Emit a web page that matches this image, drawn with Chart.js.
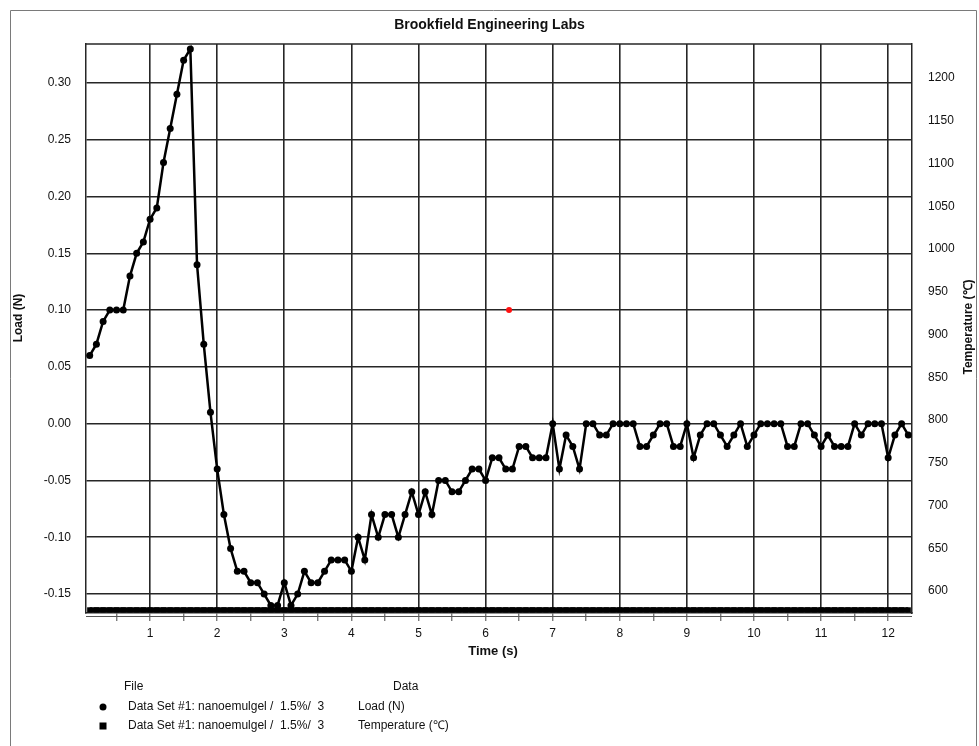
<!DOCTYPE html>
<html>
<head>
<meta charset="utf-8">
<title>Brookfield Engineering Labs</title>
<script src="https://cdn.jsdelivr.net/npm/chart.js@4/dist/chart.umd.min.js"></script>
<style>
  html, body { margin: 0; padding: 0; background: #fff; }
  canvas { display: block; }
</style>
</head>
<body>
<canvas id="c" width="979" height="746"></canvas>
<script>
// Sample times (s), one reading every 0.1 s
const timeS = [
  0.1, 0.2, 0.3, 0.4, 0.5, 0.6, 0.7, 0.8, 0.9, 1.0,
  1.1, 1.2, 1.3, 1.4, 1.5, 1.6, 1.7, 1.8, 1.9, 2.0,
  2.1, 2.2, 2.3, 2.4, 2.5, 2.6, 2.7, 2.8, 2.9, 3.0,
  3.1, 3.2, 3.3, 3.4, 3.5, 3.6, 3.7, 3.8, 3.9, 4.0,
  4.1, 4.2, 4.3, 4.4, 4.5, 4.6, 4.7, 4.8, 4.9, 5.0,
  5.1, 5.2, 5.3, 5.4, 5.5, 5.6, 5.7, 5.8, 5.9, 6.0,
  6.1, 6.2, 6.3, 6.4, 6.5, 6.6, 6.7, 6.8, 6.9, 7.0,
  7.1, 7.2, 7.3, 7.4, 7.5, 7.6, 7.7, 7.8, 7.9, 8.0,
  8.1, 8.2, 8.3, 8.4, 8.5, 8.6, 8.7, 8.8, 8.9, 9.0,
  9.1, 9.2, 9.3, 9.4, 9.5, 9.6, 9.7, 9.8, 9.9, 10.0,
  10.1, 10.2, 10.3, 10.4, 10.5, 10.6, 10.7, 10.8, 10.9, 11.0,
  11.1, 11.2, 11.3, 11.4, 11.5, 11.6, 11.7, 11.8, 11.9, 12.0,
  12.1, 12.2, 12.3
];

// Load (N)
const loadN = [
  0.06, 0.07, 0.09, 0.10, 0.10, 0.10, 0.13, 0.15, 0.16, 0.18,
  0.19, 0.23, 0.26, 0.29, 0.32, 0.33, 0.14, 0.07, 0.01, -0.04,
  -0.08, -0.11, -0.13, -0.13, -0.14, -0.14, -0.15, -0.16, -0.16, -0.14,
  -0.16, -0.15, -0.13, -0.14, -0.14, -0.13, -0.12, -0.12, -0.12, -0.13,
  -0.10, -0.12, -0.08, -0.10, -0.08, -0.08, -0.10, -0.08, -0.06, -0.08,
  -0.06, -0.08, -0.05, -0.05, -0.06, -0.06, -0.05, -0.04, -0.04, -0.05,
  -0.03, -0.03, -0.04, -0.04, -0.02, -0.02, -0.03, -0.03, -0.03, 0.00,
  -0.04, -0.01, -0.02, -0.04, 0.00, 0.00, -0.01, -0.01, 0.00, 0.00,
  0.00, 0.00, -0.02, -0.02, -0.01, 0.00, 0.00, -0.02, -0.02, 0.00,
  -0.03, -0.01, 0.00, 0.00, -0.01, -0.02, -0.01, 0.00, -0.02, -0.01,
  0.00, 0.00, 0.00, 0.00, -0.02, -0.02, 0.00, 0.00, -0.01, -0.02,
  -0.01, -0.02, -0.02, -0.02, 0.00, -0.01, 0.00, 0.00, 0.00, -0.03,
  -0.01, 0.00, -0.01
];

// Temperature (℃), sitting on the floor of the right axis
const temperatureC = [
  578, 578, 578, 578, 578, 578, 578, 578, 578, 578,
  578, 578, 578, 578, 578, 578, 578, 578, 578, 578,
  578, 578, 578, 578, 578, 578, 578, 578, 578, 578,
  578, 578, 578, 578, 578, 578, 578, 578, 578, 578,
  578, 578, 578, 578, 578, 578, 578, 578, 578, 578,
  578, 578, 578, 578, 578, 578, 578, 578, 578, 578,
  578, 578, 578, 578, 578, 578, 578, 578, 578, 578,
  578, 578, 578, 578, 578, 578, 578, 578, 578, 578,
  578, 578, 578, 578, 578, 578, 578, 578, 578, 578,
  578, 578, 578, 578, 578, 578, 578, 578, 578, 578,
  578, 578, 578, 578, 578, 578, 578, 578, 578, 578,
  578, 578, 578, 578, 578, 578, 578, 578, 578, 578,
  578, 578, 578
];

// Cursor marker
const cursorTime = [6.35];
const cursorLoad = [0.10];

// Tick values
const timeTicks = [0.5, 1, 1.5, 2, 2.5, 3, 3.5, 4, 4.5, 5, 5.5, 6, 6.5, 7, 7.5, 8, 8.5, 9, 9.5, 10, 10.5, 11, 11.5, 12];
const loadTicks = [-0.15, -0.10, -0.05, 0.00, 0.05, 0.10, 0.15, 0.20, 0.25, 0.30];
const tempTicks = [600, 650, 700, 750, 800, 850, 900, 950, 1000, 1050, 1100, 1150, 1200];

// Text
const chartTitle = 'Brookfield Engineering Labs';
const xTitle = 'Time (s)';
const yTitle = 'Load (N)';
const y2Title = 'Temperature (\u2103)';
const fileName = 'Data Set #1: nanoemulgel /  1.5%/  3';
const legendHeads = ['File', 'Data'];

const FONT = "'Liberation Sans', Arial, sans-serif";
const INK = '#111';
const GRID = '#262626';

const toPoints = (xs, ys) => xs.map((x, i) => ({ x: x, y: ys[i] }));

// Frame, top border, axis titles and the two-column legend
const decorations = {
  id: 'decorations',
  beforeDraw(chart) {
    const c = chart.ctx;
    c.save();
    c.fillStyle = '#fff';
    c.fillRect(0, 0, chart.width, chart.height);
    c.restore();
  },
  afterDraw(chart) {
    const c = chart.ctx;
    const a = chart.chartArea;
    c.save();

    // page frame
    c.strokeStyle = '#7a7a7a';
    c.lineWidth = 1;
    c.beginPath();
    c.moveTo(10.5, chart.height);
    c.lineTo(10.5, 10.5);
    c.lineTo(976.5, 10.5);
    c.lineTo(976.5, chart.height);
    c.stroke();

    // plot top edge and the second baseline under the axis
    c.strokeStyle = GRID;
    c.lineWidth = 1.5;
    c.beginPath();
    c.moveTo(a.left, a.top);
    c.lineTo(a.right, a.top);
    c.stroke();
    c.strokeStyle = '#555';
    c.lineWidth = 1;
    c.beginPath();
    c.moveTo(a.left, a.bottom + 3.5);
    c.lineTo(a.right, a.bottom + 3.5);
    c.stroke();

    // axis titles
    c.fillStyle = INK;
    c.font = 'bold 13px ' + FONT;
    c.textAlign = 'center';
    c.textBaseline = 'middle';
    c.fillText(xTitle, (a.left + a.right) / 2 - 6, 651);

    c.font = 'bold 12px ' + FONT;
    c.save();
    c.translate(19, 318);
    c.rotate(-Math.PI / 2);
    c.fillText(yTitle, 0, 0);
    c.restore();

    c.save();
    c.translate(969, 327);
    c.rotate(-Math.PI / 2);
    c.fillText(y2Title, 0, 0);
    c.restore();

    // legend
    c.font = '12px ' + FONT;
    c.textAlign = 'left';
    c.fillText(legendHeads[0], 124, 687);
    c.fillText(legendHeads[1], 393, 687);
    const ds = chart.data.datasets;
    const rows = [707, 726];
    [0, 1].forEach((k) => {
      const y = rows[k];
      c.fillStyle = '#000';
      if (ds[k].pointStyle === 'rect') {
        c.fillRect(99.5, y - 3.5, 7, 7);
      } else {
        c.beginPath();
        c.arc(103, y, 3.5, 0, Math.PI * 2);
        c.fill();
      }
      c.fillStyle = INK;
      c.fillText(fileName, 128, y);
      c.fillText(ds[k].label, 358, y);
    });
    c.restore();
  }
};

new Chart(document.getElementById('c'), {
  type: 'line',
  data: {
    datasets: [
      {
        label: yTitle,
        data: toPoints(timeS, loadN),
        yAxisID: 'y',
        borderColor: '#000',
        backgroundColor: '#000',
        borderWidth: 2.5,
        pointStyle: 'circle',
        pointRadius: 3.5,
        pointBorderWidth: 0,
        tension: 0
      },
      {
        label: y2Title,
        data: toPoints(timeS, temperatureC),
        yAxisID: 'y2',
        borderColor: '#000',
        backgroundColor: '#000',
        borderWidth: 5,
        pointStyle: 'rect',
        pointRadius: 3.6,
        pointBorderWidth: 0,
        tension: 0
      },
      {
        label: 'cursor',
        data: toPoints(cursorTime, cursorLoad),
        yAxisID: 'y',
        showLine: false,
        borderColor: '#ff1010',
        backgroundColor: '#ff1010',
        pointRadius: 3,
        pointBorderWidth: 0
      }
    ]
  },
  options: {
    responsive: false,
    animation: false,
    devicePixelRatio: 1,
    layout: { padding: 0 },
    plugins: {
      legend: { display: false },
      tooltip: { enabled: false },
      title: {
        display: true,
        text: chartTitle,
        color: INK,
        font: { family: FONT, size: 14, weight: 'bold', lineHeight: 1.2 },
        padding: { top: 17, bottom: 10.2 }
      }
    },
    scales: {
      x: {
        type: 'linear',
        min: 0.045,
        max: 12.355,
        afterBuildTicks: (s) => { s.ticks = timeTicks.map((v) => ({ value: v })); },
        afterFit: (s) => { s.height = 133; },
        ticks: {
          autoSkip: false,
          maxRotation: 0,
          padding: 5,
          color: INK,
          font: { family: FONT, size: 12 },
          callback: (v) => (Number.isInteger(v) ? String(v) : '')
        },
        grid: {
          color: (ctx) => (ctx.tick && Number.isInteger(ctx.tick.value) ? GRID : 'rgba(0,0,0,0)'),
          tickColor: '#444',
          lineWidth: 1.6,
          tickWidth: 1,
          tickLength: 8
        },
        border: { color: GRID, width: 1.5 }
      },
      y: {
        position: 'left',
        min: -0.1667,
        max: 0.3343,
        afterBuildTicks: (s) => { s.ticks = loadTicks.map((v) => ({ value: v })); },
        afterFit: (s) => { s.width = 86; },
        ticks: {
          padding: 15,
          color: INK,
          font: { family: FONT, size: 12 },
          callback: (v) => Number(v).toFixed(2)
        },
        grid: { color: GRID, lineWidth: 1.6, drawTicks: false },
        border: { color: GRID, width: 1.5 }
      },
      y2: {
        position: 'right',
        min: 574.3,
        max: 1239.8,
        afterBuildTicks: (s) => { s.ticks = tempTicks.map((v) => ({ value: v })); },
        afterFit: (s) => { s.width = 67; },
        ticks: {
          padding: 16,
          color: INK,
          font: { family: FONT, size: 12 },
          callback: (v) => String(v)
        },
        grid: { display: false, drawTicks: false },
        border: { color: GRID, width: 1.5 }
      }
    }
  },
  plugins: [decorations]
});
</script>
</body>
</html>
